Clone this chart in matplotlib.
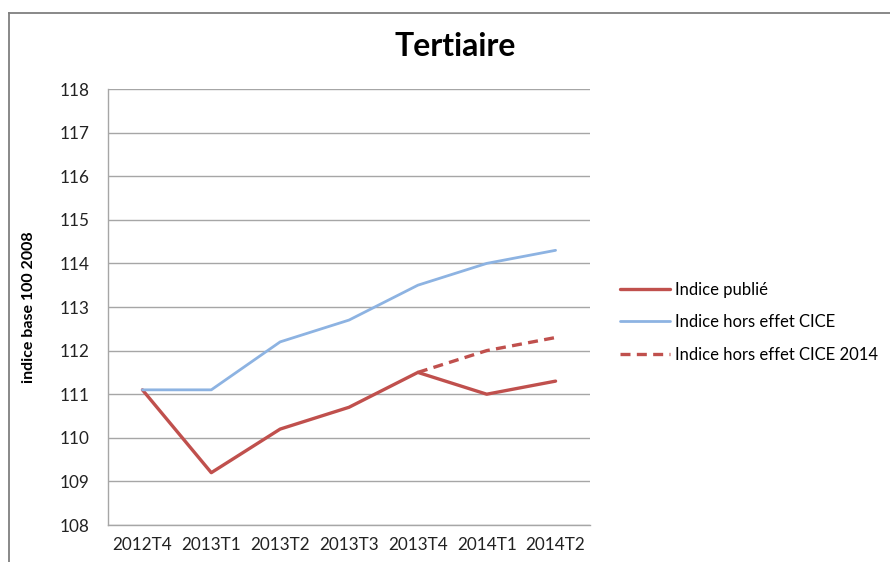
import matplotlib
matplotlib.use("Agg")
import matplotlib.pyplot as plt
from matplotlib.lines import Line2D
import numpy as np

plt.rcParams['font.family'] = ['Lato', 'DejaVu Sans']

categories = ["2012T4", "2013T1", "2013T2", "2013T3", "2013T4", "2014T1", "2014T2"]
indice_publie = [111.1, 109.2, 110.2, 110.7, 111.5, 111.0, 111.3]
hors_cice = [111.1, 111.1, 112.2, 112.7, 113.5, 114.0, 114.3]
hors_cice_2014 = [None, None, None, None, 111.5, 112.0, 112.3]
yticks = [108, 109, 110, 111, 112, 113, 114, 115, 116, 117, 118]

RED = "#C0504D"
BLUE = "#8DB3E2"
GRID = "#A6A6A6"

fig = plt.figure(figsize=(8.9, 5.62), dpi=100)
ax = fig.add_axes([108/890, 1-525/562, (590-108)/890, (525-89)/562])

x = np.arange(len(categories))
l1, = ax.plot(x, indice_publie, color=RED, lw=2.4, solid_capstyle='round', label="Indice publié")
l2, = ax.plot(x, hors_cice, color=BLUE, lw=2.0, solid_capstyle='round', label="Indice hors effet CICE")
x3 = [xi for xi, v in zip(x, hors_cice_2014) if v is not None]
y3 = [v for v in hors_cice_2014 if v is not None]
l3, = ax.plot(x3, y3, color=RED, lw=2.4, dashes=(3.0, 1.9), label="Indice hors effet CICE 2014")

ax.set_xlim(-0.5, len(categories) - 0.5)
ax.set_ylim(108, 118)
ax.set_yticks(yticks)
ax.set_xticks(x)
ax.set_xticklabels(categories)
ax.yaxis.grid(True, color=GRID, lw=1.0)
ax.set_axisbelow(True)
for s in ['top', 'right']:
    ax.spines[s].set_visible(False)
for s in ['left', 'bottom']:
    ax.spines[s].set_color(GRID)
    ax.spines[s].set_linewidth(1.0)
ax.tick_params(length=0, labelsize=12.3, colors='#222222')
ax.tick_params(axis='y', pad=13)
ax.tick_params(axis='x', pad=9)

ax.set_ylabel("indice base 100 2008", fontsize=11.5, fontweight='bold')
ax.yaxis.set_label_coords(-(108-36)/482, 0.5)

fig.text(455/890, 1-47/562, "Tertiaire", ha='center', va='center', fontsize=23, fontweight='bold')

leg = fig.legend(handles=[l1, l2, l3], loc='upper left', bbox_to_anchor=(613/890, 1-275/562),
                 frameon=False, fontsize=12.0, handlelength=3.0, handletextpad=0.3,
                 labelspacing=1.0, borderaxespad=0)

# outer chart border (top and left visible)
fig.add_artist(Line2D([8.5/890, 8.5/890], [0, 1-12.5/562], transform=fig.transFigure, color='#7F7F7F', lw=1.3))
fig.add_artist(Line2D([8.5/890, 1], [1-12.5/562, 1-12.5/562], transform=fig.transFigure, color='#7F7F7F', lw=1.3))

fig.savefig("out.png", dpi=100)
